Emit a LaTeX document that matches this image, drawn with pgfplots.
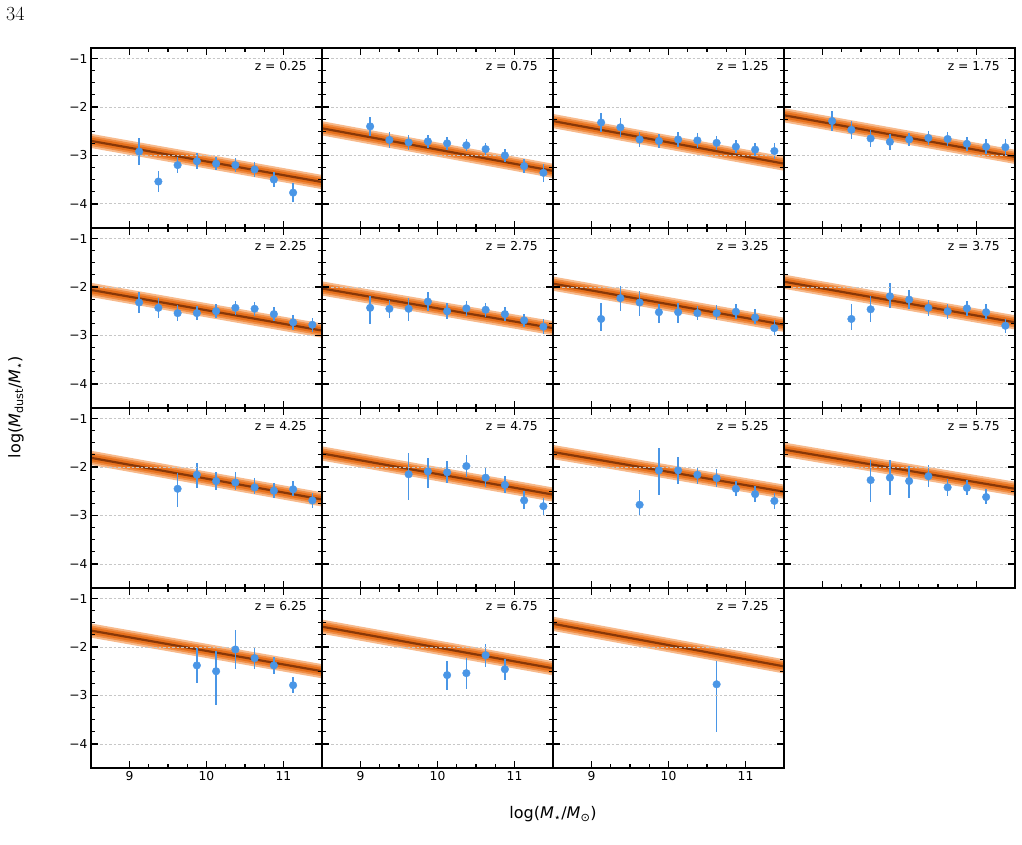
\documentclass[border=0pt]{standalone}
\usepackage{fontspec}
\usepackage{pgfplots}
\usepackage{pgfplotstable}
\pgfplotsset{compat=1.18}
\newfontfamily\dejavu{DejaVu Sans}
\newcommand\tickfont{\dejavu\fontsize{12.3}{14}\selectfont}
\newcommand\labfont{\dejavu\fontsize{16}{19}\selectfont}
\definecolor{ptblue}{RGB}{74,150,230}
\definecolor{bandA}{RGB}{247,186,140}
\definecolor{bandB}{RGB}{240,142,70}
\definecolor{bandC}{RGB}{230,112,28}
\definecolor{bandD}{RGB}{135,55,8}
\pgfplotsset{
  panel/.style={scale only axis, width=231pt, height=180pt, anchor=north west,
    xmin=8.5, xmax=11.5, ymin=-4.5, ymax=-0.78,
    xtick={9,10,11}, ytick={-4,-3,-2,-1},
    minor x tick num=3, minor y tick num=3,
    tick pos=both, tick align=inside,
    major tick length=6.7pt, minor tick length=4pt,
    major tick style={line width=1.5pt, black},
    minor tick style={line width=1.1pt, black},
    axis line style={line width=2pt, black},
    ymajorgrids, major grid style={line width=0.6pt, black!22, dash pattern=on 2.5pt off 2pt},
    xticklabels={,,}, yticklabels={,,,},
    every tick label/.append style={font=\tickfont},
    axis on top},
  ylab/.style={yticklabels={{\tickfont −4},{\tickfont −3},{\tickfont −2},{\tickfont −1}}},
  xlab/.style={xticklabels={{\tickfont 9},{\tickfont 10},{\tickfont 11}}},
  pts/.style={only marks, mark=*, mark size=3.8pt, color=ptblue, mark options={fill=ptblue, draw=none},
    error bars/.cd, y dir=both, y explicit, error mark=none,
    error bar style={line width=1.7pt, color=ptblue}},
}
\newcommand\fit[2]{%
  \addplot[bandA, line width=14pt, line cap=rect] coordinates {(8.5,#1) (11.5,#2)};
  \addplot[bandB, line width=10pt, line cap=rect] coordinates {(8.5,#1) (11.5,#2)};
  \addplot[bandC, line width=6.5pt, line cap=rect] coordinates {(8.5,#1) (11.5,#2)};
  \addplot[bandD, line width=2.2pt, line cap=rect] coordinates {(8.5,#1) (11.5,#2)};
}
\newcommand\zlab[1]{\node[anchor=north east, inner sep=0pt, font=\tickfont] at ([xshift=-15pt,yshift=-13.5pt]rel axis cs:1,1) {#1};}
\newcommand\pl[1]{\addplot[pts] table[x=x,y=y,y error plus=ep,y error minus=em]{#1};}

\pgfplotstableread{
x y ep em
9.125 -2.92 0.27 0.27
9.375 -3.54 0.22 0.22
9.625 -3.20 0.16 0.16
9.875 -3.12 0.16 0.16
10.125 -3.17 0.14 0.14
10.375 -3.20 0.14 0.14
10.625 -3.29 0.16 0.16
10.875 -3.50 0.15 0.15
11.125 -3.77 0.19 0.19
}\tA
\pgfplotstableread{
x y ep em
9.125 -2.40 0.20 0.20
9.375 -2.68 0.17 0.17
9.625 -2.73 0.15 0.15
9.875 -2.71 0.13 0.13
10.125 -2.75 0.13 0.13
10.375 -2.79 0.12 0.12
10.625 -2.87 0.12 0.12
10.875 -3.00 0.13 0.13
11.125 -3.22 0.15 0.15
11.375 -3.36 0.19 0.19
}\tB
\pgfplotstableread{
x y ep em
9.125 -2.32 0.19 0.19
9.375 -2.42 0.19 0.19
9.625 -2.67 0.15 0.15
9.875 -2.70 0.14 0.14
10.125 -2.67 0.15 0.15
10.375 -2.69 0.15 0.15
10.625 -2.74 0.14 0.14
10.875 -2.82 0.14 0.14
11.125 -2.88 0.14 0.14
11.375 -2.91 0.16 0.16
}\tC
\pgfplotstableread{
x y ep em
9.125 -2.29 0.21 0.21
9.375 -2.47 0.19 0.19
9.625 -2.65 0.17 0.17
9.875 -2.72 0.16 0.16
10.125 -2.67 0.14 0.14
10.375 -2.64 0.15 0.15
10.625 -2.66 0.15 0.15
10.875 -2.76 0.15 0.15
11.125 -2.82 0.15 0.15
11.375 -2.83 0.17 0.17
}\tD
\pgfplotstableread{
x y ep em
9.125 -2.32 0.22 0.22
9.375 -2.43 0.20 0.20
9.625 -2.54 0.17 0.17
9.875 -2.54 0.15 0.15
10.125 -2.50 0.15 0.15
10.375 -2.43 0.15 0.15
10.625 -2.45 0.15 0.15
10.875 -2.56 0.14 0.14
11.125 -2.73 0.15 0.15
11.375 -2.78 0.15 0.15
}\tE
\pgfplotstableread{
x y ep em
9.125 -2.43 0.25 0.34
9.375 -2.45 0.19 0.19
9.625 -2.45 0.23 0.25
9.875 -2.30 0.19 0.19
10.125 -2.50 0.16 0.16
10.375 -2.44 0.16 0.16
10.625 -2.47 0.15 0.15
10.875 -2.56 0.15 0.15
11.125 -2.69 0.14 0.14
11.375 -2.82 0.15 0.15
}\tF
\pgfplotstableread{
x y ep em
9.125 -2.66 0.34 0.25
9.375 -2.23 0.26 0.26
9.625 -2.32 0.23 0.28
9.875 -2.52 0.17 0.23
10.125 -2.52 0.20 0.23
10.375 -2.54 0.15 0.15
10.625 -2.54 0.17 0.14
10.875 -2.51 0.15 0.15
11.125 -2.63 0.17 0.14
11.375 -2.85 0.16 0.14
}\tG
\pgfplotstableread{
x y ep em
9.375 -2.66 0.30 0.23
9.625 -2.46 0.27 0.27
9.875 -2.19 0.28 0.25
10.125 -2.26 0.19 0.20
10.375 -2.43 0.16 0.16
10.625 -2.50 0.15 0.16
10.875 -2.44 0.16 0.16
11.125 -2.52 0.16 0.15
11.375 -2.80 0.14 0.14
}\tH
\pgfplotstableread{
x y ep em
9.625 -2.45 0.32 0.37
9.875 -2.16 0.25 0.27
10.125 -2.29 0.18 0.19
10.375 -2.32 0.22 0.16
10.625 -2.42 0.20 0.14
10.875 -2.49 0.17 0.14
11.125 -2.46 0.17 0.14
11.375 -2.69 0.16 0.16
}\tI
\pgfplotstableread{
x y ep em
9.625 -2.15 0.44 0.54
9.875 -2.09 0.28 0.34
10.125 -2.11 0.23 0.22
10.375 -1.98 0.23 0.22
10.625 -2.22 0.20 0.19
10.875 -2.37 0.18 0.17
11.125 -2.69 0.19 0.17
11.375 -2.81 0.16 0.19
}\tJ
\pgfplotstableread{
x y ep em
9.625 -2.78 0.30 0.24
9.875 -2.07 0.46 0.50
10.125 -2.07 0.28 0.28
10.375 -2.16 0.17 0.19
10.625 -2.23 0.18 0.18
10.875 -2.45 0.16 0.15
11.125 -2.56 0.17 0.16
11.375 -2.70 0.17 0.16
}\tK
\pgfplotstableread{
x y ep em
9.625 -2.27 0.41 0.45
9.875 -2.22 0.36 0.36
10.125 -2.29 0.31 0.36
10.375 -2.19 0.23 0.22
10.625 -2.42 0.17 0.17
10.875 -2.43 0.16 0.15
11.125 -2.62 0.16 0.15
}\tL
\pgfplotstableread{
x y ep em
9.875 -2.38 0.37 0.37
10.125 -2.50 0.41 0.70
10.375 -2.05 0.40 0.40
10.625 -2.23 0.23 0.23
10.875 -2.38 0.18 0.18
11.125 -2.79 0.17 0.17
}\tM
\pgfplotstableread{
x y ep em
10.125 -2.58 0.30 0.30
10.375 -2.54 0.32 0.32
10.625 -2.17 0.24 0.24
10.875 -2.46 0.22 0.22
}\tN
\pgfplotstableread{
x y ep em
10.625 -2.77 0.48 0.98
}\tO

\begin{document}
\begin{tikzpicture}
\useasboundingbox (0,0) rectangle (1022pt,845pt);
% row 1
\begin{axis}[panel, ylab, at={(91pt,797pt)}]
\fit{-2.70}{-3.55}\pl{\tA}\zlab{z = 0.25}
\end{axis}
\begin{axis}[panel, at={(322pt,797pt)}]
\fit{-2.44}{-3.32}\pl{\tB}\zlab{z = 0.75}
\end{axis}
\begin{axis}[panel, at={(553pt,797pt)}]
\fit{-2.29}{-3.17}\pl{\tC}\zlab{z = 1.25}
\end{axis}
\begin{axis}[panel, at={(784pt,797pt)}]
\fit{-2.17}{-3.03}\pl{\tD}\zlab{z = 1.75}
\end{axis}
% row 2
\begin{axis}[panel, ylab, at={(91pt,617pt)}]
\fit{-2.06}{-2.90}\pl{\tE}\zlab{z = 2.25}
\end{axis}
\begin{axis}[panel, at={(322pt,617pt)}]
\fit{-2.03}{-2.85}\pl{\tF}\zlab{z = 2.75}
\end{axis}
\begin{axis}[panel, at={(553pt,617pt)}]
\fit{-1.93}{-2.78}\pl{\tG}\zlab{z = 3.25}
\end{axis}
\begin{axis}[panel, at={(784pt,617pt)}]
\fit{-1.89}{-2.73}\pl{\tH}\zlab{z = 3.75}
\end{axis}
% row 3
\begin{axis}[panel, ylab, at={(91pt,437pt)}]
\fit{-1.81}{-2.67}\pl{\tI}\zlab{z = 4.25}
\end{axis}
\begin{axis}[panel, at={(322pt,437pt)}]
\fit{-1.72}{-2.57}\pl{\tJ}\zlab{z = 4.75}
\end{axis}
\begin{axis}[panel, at={(553pt,437pt)}]
\fit{-1.69}{-2.51}\pl{\tK}\zlab{z = 5.25}
\end{axis}
\begin{axis}[panel, at={(784pt,437pt)}]
\fit{-1.64}{-2.45}\pl{\tL}\zlab{z = 5.75}
\end{axis}
% row 4
\begin{axis}[panel, ylab, xlab, at={(91pt,257pt)}]
\fit{-1.66}{-2.50}\pl{\tM}\zlab{z = 6.25}
\end{axis}
\begin{axis}[panel, xlab, at={(322pt,257pt)}]
\fit{-1.58}{-2.44}\pl{\tN}\zlab{z = 6.75}
\end{axis}
\begin{axis}[panel, xlab, at={(553pt,257pt)}]
\fit{-1.52}{-2.40}\pl{\tO}\zlab{z = 7.25}
\end{axis}
% labels
\node[anchor=base west, inner sep=0pt, font=\fontsize{20}{24}\selectfont] at (6pt,824pt) {34};
\node[rotate=90, font=\labfont] at (16pt,438pt) {log(\textit{M}\textsubscript{dust}/\textit{M}\textsubscript{⋆})};
\node[font=\labfont] at (553pt,31pt) {log(\textit{M}\textsubscript{⋆}/\textit{M}\textsubscript{⊙})};
\end{tikzpicture}
\end{document}
